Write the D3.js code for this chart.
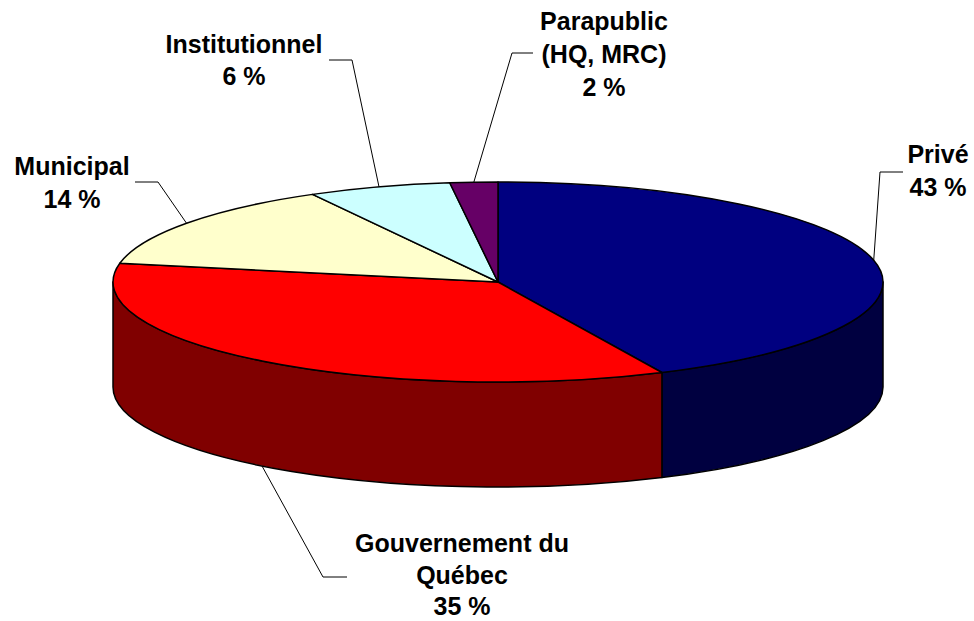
<!DOCTYPE html>
<html>
<head>
<meta charset="utf-8">
<script src="https://cdn.jsdelivr.net/npm/d3@7"></script>
<style>
  html, body { margin: 0; padding: 0; background: #fff; }
  svg { display: block; }
  .lbl { font-family: "Liberation Sans", Arial, sans-serif; font-weight: bold; font-size: 25px; fill: #000; }
</style>
</head>
<body>
<svg id="chart" width="974" height="621"></svg>
<script>
// Share of each category (%)
const categories = ["Privé", "Gouvernement du Québec", "Municipal", "Institutionnel", "Parapublic"];
const shares = [43, 35, 14, 6, 2];
// Label text lines (the last line is the percentage)
const labelNames = [["Privé"], ["Gouvernement du", "Québec"], ["Municipal"], ["Institutionnel"], ["Parapublic", "(HQ, MRC)"]];

// Face colours and darker wall colours
const topColors = ["#000080", "#FF0000", "#FFFFCC", "#CCFFFF", "#660066"];
const sideColors = ["#000040", "#800000", "#99997a", "#7a9999", "#330033"];

// Label placement: text centre x, first baseline y, line spacing, leader horizontal stub (x0 -> x1 at y)
const labelLayout = {
  "Privé": { x: 938, y: 163, lh: 32.5, hx0: 903, hx1: 880, hy: 172 },
  "Gouvernement du Québec": { x: 462, y: 552, lh: 31.5, hx0: 347, hx1: 323, hy: 577 },
  "Municipal": { x: 72, y: 175, lh: 33, hx0: 135, hx1: 158, hy: 182 },
  "Institutionnel": { x: 244, y: 53, lh: 32, hx0: 329, hx1: 352, hy: 60 },
  "Parapublic": { x: 604, y: 30, lh: 33, hx0: 533, hx1: 512, hy: 53 }
};

const svg = d3.select("#chart");
const cx = 498, cy = 282, rx = 385, ry = 100, depth = 105;

// Point on the ellipse for an angle measured clockwise from 12 o'clock
const pt = (a, dy = 0) => [cx + rx * Math.sin(a), cy - ry * Math.cos(a) + dy];

const pie = d3.pie().sort(null).value(d => d.v).startAngle(0).endAngle(2 * Math.PI);
const arcs = pie(categories.map((c, i) => ({ c, v: shares[i], i })));

// Walls: only the front half (pi/2 .. 3pi/2) is visible
const walls = svg.append("g");
arcs.forEach(d => {
  const s = Math.max(d.startAngle, Math.PI / 2);
  const e = Math.min(d.endAngle, 3 * Math.PI / 2);
  if (e <= s) return;
  const p0 = pt(s), p1 = pt(e), p2 = pt(e, depth), p3 = pt(s, depth);
  const path = `M${p0}A${rx},${ry} 0 0 1 ${p1}L${p2}A${rx},${ry} 0 0 0 ${p3}Z`;
  walls.append("path").attr("d", path)
    .attr("fill", sideColors[d.data.i])
    .attr("stroke", "#000").attr("stroke-width", 1.5).attr("stroke-linejoin", "round");
});

// Top faces
const tops = svg.append("g");
arcs.forEach(d => {
  const p0 = pt(d.startAngle), p1 = pt(d.endAngle);
  const large = (d.endAngle - d.startAngle) > Math.PI ? 1 : 0;
  const path = `M${cx},${cy}L${p0}A${rx},${ry} 0 ${large} 1 ${p1}Z`;
  tops.append("path").attr("d", path)
    .attr("fill", topColors[d.data.i])
    .attr("stroke", "#000").attr("stroke-width", 1.5).attr("stroke-linejoin", "round");
});

// Leader lines and labels
const labels = svg.append("g");
arcs.forEach(d => {
  const L = labelLayout[d.data.c];
  const mid = (d.startAngle + d.endAngle) / 2;
  const edge = Math.cos(mid) < 0 ? pt(mid, depth) : pt(mid);
  labels.append("polyline")
    .attr("points", [[L.hx0, L.hy], [L.hx1, L.hy], edge].map(p => p.join(",")).join(" "))
    .attr("fill", "none").attr("stroke", "#000").attr("stroke-width", 1);
  const lines = labelNames[d.data.i].concat([`${d.data.v} %`]);
  const t = labels.append("text").attr("class", "lbl").attr("text-anchor", "middle");
  lines.forEach((s, k) => {
    t.append("tspan").attr("x", L.x).attr("y", L.y + k * L.lh).text(s);
  });
});
</script>
</body>
</html>
